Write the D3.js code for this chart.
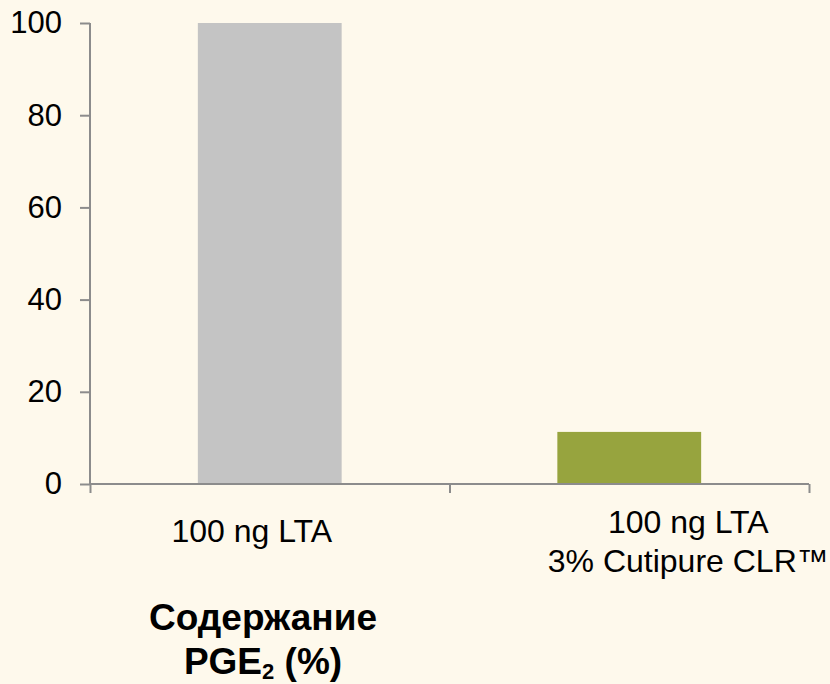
<!DOCTYPE html>
<html>
<head>
<meta charset="utf-8">
<script src="https://cdn.jsdelivr.net/npm/d3@7"></script>
<style>
  body { margin: 0; background: #fef9ec; }
  svg { display: block; font-family: "Liberation Sans", Arial, sans-serif; }
</style>
</head>
<body>
<div id="chart"></div>
<script>
// chart data
var categories = ["100 ng LTA", "100 ng LTA\n3% Cutipure CLR™"];
var values = [100, 11.3];
var barColors = ["#c4c4c4", "#97a43e"];
var yTicks = [0, 20, 40, 60, 80, 100];

var width = 830, height = 684;
var margin = {top: 23, right: 21, bottom: 200, left: 90};
var innerW = width - margin.left - margin.right,
    innerH = height - margin.top - margin.bottom;

// labels sit a bit off the band centres in the original
var labelShift = [-18, 59];
var labelY = [58, 49];

var svg = d3.select("#chart").append("svg")
    .attr("width", width)
    .attr("height", height);

svg.append("rect")
    .attr("width", width)
    .attr("height", height)
    .attr("fill", "#fef9ec");

var g = svg.append("g")
    .attr("transform", "translate(" + margin.left + "," + margin.top + ")");

var x = d3.scaleBand()
    .domain(categories)
    .range([0, innerW])
    .paddingInner(0.6)
    .paddingOuter(0.3);

var y = d3.scaleLinear().domain([0, 100]).range([innerH, 0]);

// bars
g.selectAll(".bar")
    .data(values)
    .enter().append("rect")
    .attr("class", "bar")
    .attr("x", function(d, i) { return x(categories[i]); })
    .attr("width", x.bandwidth())
    .attr("y", function(d) { return y(d); })
    .attr("height", function(d) { return innerH - y(d); })
    .attr("fill", function(d, i) { return barColors[i]; });

// y axis
var yAxis = g.append("g")
    .call(d3.axisLeft(y).tickValues(yTicks).tickSize(10).tickPadding(18));
yAxis.selectAll("path, line").attr("stroke", "#8c8c8c").attr("stroke-width", 2);
yAxis.select(".domain").attr("d", "M0," + innerH + "V0");
yAxis.selectAll("text")
    .attr("font-size", 31)
    .attr("font-family", "Liberation Sans, Arial, sans-serif")
    .attr("fill", "#000");

// x axis, ticks on the band boundaries
var xb = d3.scaleLinear().domain([0, categories.length]).range([0, innerW]);
var xAxis = g.append("g")
    .attr("transform", "translate(0," + innerH + ")")
    .call(d3.axisBottom(xb).tickValues(d3.range(categories.length + 1)).tickSize(9).tickFormat(""));
xAxis.selectAll("path, line").attr("stroke", "#8c8c8c").attr("stroke-width", 2);
xAxis.select(".domain").attr("d", "M0,0H" + innerW);

// category labels
categories.forEach(function(c, i) {
  var cx = x(c) + x.bandwidth() / 2 + labelShift[i];
  var t = g.append("text")
      .attr("x", cx)
      .attr("y", innerH + labelY[i])
      .attr("text-anchor", "middle")
      .attr("font-size", 32)
      .attr("fill", "#000");
  c.split("\n").forEach(function(line, j) {
    t.append("tspan")
        .attr("x", cx)
        .attr("dy", j === 0 ? 0 : 39)
        .text(line);
  });
});

// axis title below the chart
svg.append("text")
    .attr("x", 263)
    .attr("y", 630)
    .attr("text-anchor", "middle")
    .attr("font-size", 37)
    .attr("font-weight", "bold")
    .attr("fill", "#000")
    .text("Содержание");
var l2 = svg.append("text")
    .attr("x", 263)
    .attr("y", 674)
    .attr("text-anchor", "middle")
    .attr("font-size", 37)
    .attr("font-weight", "bold")
    .attr("fill", "#000");
l2.append("tspan").text("PGE");
l2.append("tspan").attr("font-size", 22).attr("dy", 5).text("2");
l2.append("tspan").attr("dy", -5).text(" (%)");
</script>
</body>
</html>
